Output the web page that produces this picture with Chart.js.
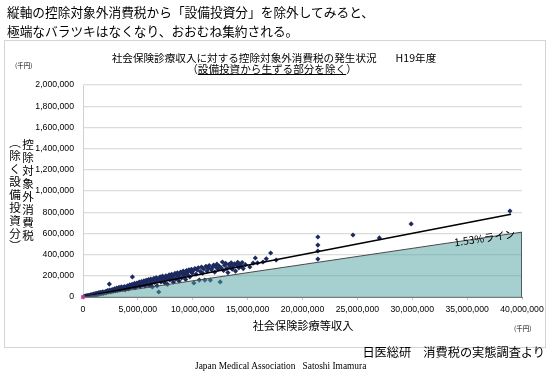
<!DOCTYPE html>
<html>
<head>
<meta charset="utf-8">
<script src="https://cdn.jsdelivr.net/npm/chart.js@4.4.1/dist/chart.umd.min.js"></script>
<style>
  html, body { margin: 0; padding: 0; background: #fff; }
  #page { position: relative; width: 550px; height: 386px; overflow: hidden; font-family: "Noto Sans CJK JP", sans-serif; color: #000; }
  #box { position: absolute; left: 4px; top: 40px; width: 540px; height: 306px; border: 1px solid #d4d4d4; }
  canvas { position: absolute; left: 0; top: 0; }
  .t { position: absolute; white-space: nowrap; }
  #head { left: 7px; top: 2px; font-size: 12.7px; line-height: 19px; }
  #title1 { left: 274px; top: 51px; transform: translateX(-50%); font-size: 10.6px; line-height: 13px; }
  #title2 { left: 272px; top: 62px; transform: translateX(-50%); font-size: 10.6px; line-height: 13px; }
  #title2 u { text-underline-offset: 1px; }
  .unit { font-size: 6.5px; line-height: 8px; }
  #unitY { left: 15px; top: 61px; }
  #unitX { left: 514px; top: 324px; }
  .vt { position: absolute; writing-mode: vertical-rl; font-size: 11.6px; line-height: 13px; letter-spacing: 1.3px; white-space: nowrap; }
  #vt1 { left: 21px; top: 139px; }
  #vt2 { left: 8px; top: 137px; }
  #xtitle { left: 303px; top: 318px; transform: translateX(-50%); font-size: 11.2px; line-height: 14px; }
  #src { right: 5px; top: 344px; font-size: 12.2px; line-height: 16px; }
  #author { left: 195px; top: 361px; font-family: "Liberation Serif", serif; font-size: 9.4px; line-height: 11px; }
</style>
</head>
<body>
<div id="page">
  <div id="box"></div>
  <canvas id="c" width="550" height="386"></canvas>
  <div class="t" id="head">縦軸の控除対象外消費税から「設備投資分」を除外してみると、<br>極端なバラツキはなくなり、おおむね集約される。</div>
  <div class="t" id="title1">社会保険診療収入に対する控除対象外消費税の発生状況<span style="display:inline-block;width:19px"></span>H19年度</div>
  <div class="t" id="title2">（<u>設備投資から生ずる部分を除く</u>）</div>
  <div class="t unit" id="unitY">(千円)</div>
  <div class="vt" id="vt1">控除対象外消費税</div>
  <div class="vt" id="vt2">（除く設備投資分）</div>
  <div class="t" id="xtitle">社会保険診療等収入</div>
  <div class="t unit" id="unitX">(千円)</div>
  <div class="t" id="src">日医総研　消費税の実態調査より</div>
  <div class="t" id="author">Japan Medical Association&nbsp;&nbsp; Satoshi Imamura</div>
</div>
<script>
// ---- data (千円) ----
const incomes = [
  120000,180000,220000,260000,310000,350000,400000,430000,480000,520000,560000,600000,650000,700000,740000,780000,830000,880000,920000,970000,
  1010000,1060000,1100000,1150000,1200000,1250000,1300000,1350000,1400000,1450000,1500000,1560000,1620000,1680000,1740000,1800000,1860000,1920000,1980000,
  2050000,2100000,2170000,2230000,2300000,2360000,2400000,2450000,2520000,2600000,2660000,2730000,2800000,2870000,2940000,3000000,3070000,3140000,3210000,3280000,
  3350000,3420000,3490000,3560000,3630000,3700000,3770000,3840000,3910000,3980000,4050000,4120000,4190000,4260000,4330000,4400000,4470000,4500000,4550000,4620000,
  4700000,4770000,4840000,4910000,4980000,
  5050000,5120000,5200000,5270000,5340000,5400000,5480000,5550000,5620000,5700000,5760000,5830000,5900000,5970000,6040000,6100000,6180000,6250000,6320000,6400000,
  6460000,6530000,6600000,6680000,6750000,6820000,6900000,6960000,7030000,7100000,7180000,7250000,7320000,7400000,7470000,7550000,7620000,7700000,7770000,7850000,
  7920000,8000000,8080000,8150000,8230000,8300000,8380000,8450000,8530000,8600000,8680000,8750000,8830000,8900000,8980000,9050000,9130000,9200000,9280000,9350000,
  9430000,9500000,9580000,9650000,9730000,9800000,9880000,9950000,
  10050000,10100000,10200000,10300000,10400000,10500000,10600000,10700000,10800000,10900000,11000000,11100000,11200000,11300000,11400000,11500000,11600000,11700000,
  11800000,11900000,12000000,12100000,12200000,12300000,12400000,12500000,12600000,12700000,12800000,12900000,13000000,13100000,13200000,13300000,13400000,13500000,
  13600000,13700000,13800000,13900000,14000000,14100000,14200000,14300000,14400000,14500000,14600000,14800000,
  15200000,15500000,15700000,15900000,16400000,16700000,17100000,17600000,
  21400000,21400000,21400000,21400000,24600000,27000000,29900000,38900000
];
const taxes = [
  6000,3000,8000,5000,11000,4000,9000,14000,7000,12000,16000,10000,14000,20000,12000,18000,23000,15000,21000,27000,
  17000,24000,30000,20000,35000,26000,22000,33000,38000,27000,32000,44000,29000,40000,36000,48000,33000,45000,41000,
  52000,38000,49000,60000,45000,57000,122000,64000,48000,58000,70000,52000,66000,78000,57000,69000,84000,62000,73000,90000,
  66000,80000,95000,72000,86000,78000,99000,68000,92000,84000,106000,76000,98000,114000,90000,104000,120000,189000,96000,110000,
  128000,88000,116000,132000,105000,
  122000,140000,98000,128000,146000,112000,135000,152000,104000,142000,158000,120000,148000,164000,110000,152000,170000,130000,95000,160000,
  176000,138000,166000,182000,105000,150000,47000,172000,190000,142000,178000,196000,158000,184000,130000,200000,170000,120000,190000,208000,
  162000,196000,214000,178000,140000,202000,222000,168000,208000,228000,190000,150000,216000,236000,180000,222000,244000,200000,230000,165000,
  250000,212000,238000,256000,190000,244000,262000,225000,
  250000,132000,268000,215000,256000,276000,160000,240000,282000,225000,264000,160000,290000,245000,272000,296000,160000,258000,
  280000,302000,235000,284000,310000,262000,292000,142000,274000,330000,250000,300000,318000,270000,230000,306000,285000,322000,
  262000,296000,312000,245000,300000,328000,275000,310000,290000,325000,268000,305000,
  283000,320000,368000,321000,330000,360000,415000,349000,
  566000,490000,434000,358000,585000,557000,689000,811000
];
const trendIncome = [0, 39000000];
const trendTax = [0, 780000];
const lineIncome = [0, 40000000, 40000000];   // 1.53% line
const lineTax = [0, 612000, 0];
const originIncome = [0];
const originTax = [0];
const xTicks = [0, 5000000, 10000000, 15000000, 20000000, 25000000, 30000000, 35000000, 40000000];
const yTicks = [0, 200000, 400000, 600000, 800000, 1000000, 1200000, 1400000, 1600000, 1800000, 2000000];
const lineLabel = '1.53%ライン';

const toPts = (xs, ys) => xs.map((x, i) => ({ x: x, y: ys[i] }));
const fmt = v => Number(v).toLocaleString('en-US');
const tickFont = { family: '"Liberation Sans", Arial, sans-serif', size: 8.7 };

const labelPlugin = {
  id: 'lineLabel',
  afterDatasetsDraw(chart) {
    const xs = chart.scales.x, ys = chart.scales.y, ctx = chart.ctx;
    const x0 = xs.getPixelForValue(lineIncome[0]), y0 = ys.getPixelForValue(lineTax[0]);
    const x1 = xs.getPixelForValue(lineIncome[1]), y1 = ys.getPixelForValue(lineTax[1]);
    const ang = Math.atan2(y1 - y0, x1 - x0);
    const cx = xs.getPixelForValue(36600000), cy = ys.getPixelForValue(557000);
    ctx.save();
    ctx.translate(cx, cy);
    ctx.rotate(ang);
    ctx.font = '10.5px "Noto Sans CJK JP", sans-serif';
    ctx.fillStyle = '#000';
    ctx.textAlign = 'center';
    ctx.textBaseline = 'middle';
    ctx.fillText(lineLabel, 0, 0);
    ctx.restore();
  }
};

new Chart(document.getElementById('c'), {
  type: 'scatter',
  data: {
    datasets: [
      { label: 'origin', data: toPts(originIncome, originTax), pointStyle: 'rect', pointRadius: 2.6,
        backgroundColor: '#cc3399', borderColor: '#cc3399', borderWidth: 0, clip: false, order: 0 },
      { label: '1.53%', data: toPts(lineIncome, lineTax), showLine: true, fill: 'origin',
        backgroundColor: 'rgba(78,160,160,0.5)', borderColor: '#4a4a4a', borderWidth: 1,
        pointRadius: 0, tension: 0, order: 1 },
      { label: 'trend', data: toPts(trendIncome, trendTax), showLine: true, fill: false,
        borderColor: '#000', borderWidth: 1.6, pointRadius: 0, order: 2 },
      { label: 'clinics', data: toPts(incomes, taxes), pointStyle: 'rectRot', pointRadius: 2.6,
        backgroundColor: '#1c2a60', borderColor: '#1c2a60', borderWidth: 0, order: 3 }
    ]
  },
  options: {
    responsive: false,
    animation: false,
    events: [],
    layout: { padding: { top: 85, right: 28, left: 0, bottom: 0 } },
    plugins: { legend: { display: false }, tooltip: { enabled: false }, title: { display: false } },
    scales: {
      x: {
        type: 'linear', min: 0, max: 40000000,
        afterBuildTicks: s => { s.ticks = xTicks.map(v => ({ value: v })); },
        afterFit: s => { s.height = 89; },
        grid: { display: true, drawOnChartArea: false, drawTicks: true, tickLength: 3, color: '#c8c8c8' },
        border: { display: true, color: '#7a7a7a', width: 1 },
        ticks: { callback: v => fmt(v), font: tickFont, color: '#000', padding: 4, maxRotation: 0, autoSkip: false }
      },
      y: {
        type: 'linear', min: 0, max: 2000000,
        afterBuildTicks: s => { s.ticks = yTicks.map(v => ({ value: v })); },
        afterFit: s => { s.width = 83; },
        grid: { color: '#dcdcdc', lineWidth: 1.2, drawTicks: false },
        border: { display: true, color: '#d0d0d0', width: 1 },
        ticks: { callback: v => fmt(v), font: tickFont, color: '#000', padding: 9, autoSkip: false }
      }
    }
  },
  plugins: [labelPlugin]
});
</script>
</body>
</html>
